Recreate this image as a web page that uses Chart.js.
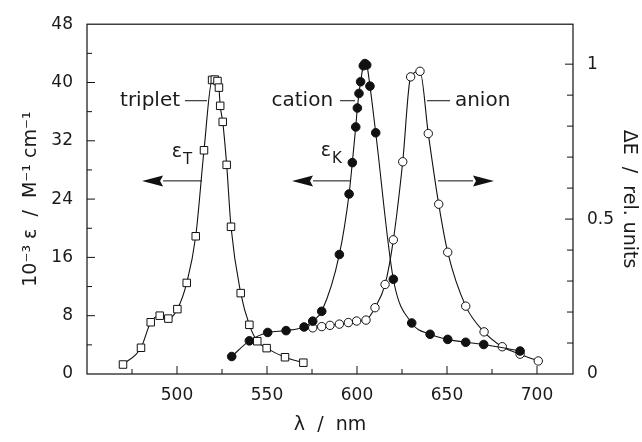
<!DOCTYPE html>
<html>
<head>
<meta charset="utf-8">
<script src="https://cdn.jsdelivr.net/npm/chart.js@4"></script>
<style>
  html, body { margin: 0; background: #fff; }
</style>
</head>
<body>
<canvas id="chart" width="642" height="442"></canvas>
<script>
// triplet (squares, left axis)
const tripletX = [470, 480, 485.4, 490.4, 495.2, 500.2, 505.4, 510.4, 515, 519.5, 521, 522.5, 523.3, 524, 525.4, 527.6, 530, 535.4, 540.2, 544.6, 549.8, 560, 570.2];
const tripletY = [1.3, 3.6, 7.1, 8.0, 7.6, 8.9, 12.5, 18.9, 30.7, 40.35, 40.4, 40.2, 39.3, 36.8, 34.6, 28.7, 20.2, 11.1, 6.75, 4.5, 3.55, 2.3, 1.55];

// cation (filled circles, left axis)
const cationX = [530.4, 540.2, 550.4, 560.6, 570.6, 575.4, 580.4, 590.2, 595.6, 597.4, 599.3, 600.2, 601.1, 602, 603.5, 604.4, 605.4, 607.2, 610.4, 620.2, 630.4, 640.6, 650.4, 660.4, 670.4, 690.6];
const cationY = [2.4, 4.55, 5.7, 5.95, 6.45, 7.25, 8.6, 16.4, 24.7, 29.0, 33.9, 36.5, 38.5, 40.1, 42.3, 42.6, 42.4, 39.5, 33.1, 13.0, 7.0, 5.45, 4.75, 4.35, 4.05, 3.15];

// anion (open circles, right axis)
const anionX = [575.4, 580.4, 585, 590.2, 595.2, 599.8, 605, 610, 615.6, 620.2, 625.4, 629.8, 635, 639.6, 645.4, 650.4, 660.4, 670.6, 680.7, 690.6, 700.7];
const anionY = [0.149, 0.153, 0.157, 0.161, 0.166, 0.171, 0.174, 0.214, 0.289, 0.433, 0.685, 0.959, 0.977, 0.776, 0.548, 0.393, 0.219, 0.136, 0.088, 0.064, 0.042];

// tick labels
const xLabels = [500, 550, 600, 650, 700];
const yLabels = [0, 8, 16, 24, 32, 40, 48];
const y2Labels = [0, 0.5, 1];
const xTicks = [450, 475, 500, 525, 550, 575, 600, 625, 650, 675, 700];

const pts = (xs, ys) => xs.map((x, i) => ({ x: x, y: ys[i] }));
const INK = "#111";
const FONT = "'DejaVu Sans', sans-serif";

// annotations, in data units of x / left axis
const notes = [
  { text: "triplet", x: 501.7, y: 37.5, align: "right", lead: [504.4, 516.7] },
  { text: "cation", x: 586.7, y: 37.5, align: "right", lead: [590.6, 598.9] },
  { text: "anion", x: 654.4, y: 37.5, align: "left", lead: [638.9, 651.7] }
];
const symbols = [
  { main: "ε", sub: "T", x: 502.8, y: 30.4 },
  { main: "ε", sub: "K", x: 585.5, y: 30.6 }
];
const arrows = [
  { from: 513.9, to: 480.6, y: 26.5 },
  { from: 596.1, to: 563.9, y: 26.5 },
  { from: 645, to: 676.1, y: 26.5 }
];

const near = (v, list) => list.some(l => Math.abs(v - l) < 1e-6);

const decor = {
  id: "decor",
  afterDraw(chart) {
    const { ctx, chartArea: a, scales } = chart;
    const sx = scales.x, sy = scales.y, sy2 = scales.y2;
    ctx.save();
    ctx.strokeStyle = INK;
    ctx.lineWidth = 1.2;
    ctx.strokeRect(a.left, a.top, a.right - a.left, a.bottom - a.top);

    ctx.lineWidth = 1;
    ctx.beginPath();
    sx.ticks.forEach(t => {
      const v = t.value;
      if (v <= sx.min || v >= sx.max) return;
      const p = sx.getPixelForValue(v);
      const len = near(v, xLabels) ? 8 : 5;
      ctx.moveTo(p, a.bottom); ctx.lineTo(p, a.bottom - len);
    });
    sy.ticks.forEach(t => {
      const v = t.value;
      if (v <= sy.min || v >= sy.max) return;
      const p = sy.getPixelForValue(v);
      const len = near(v, yLabels) ? 8 : 5;
      ctx.moveTo(a.left, p); ctx.lineTo(a.left + len, p);
    });
    sy2.ticks.forEach(t => {
      const v = t.value;
      if (v <= sy2.min || v >= sy2.max - 0.02) return;
      const p = sy2.getPixelForValue(v);
      const len = near(v, y2Labels) ? 8 : 6;
      ctx.moveTo(a.right, p); ctx.lineTo(a.right - len, p);
    });
    ctx.stroke();

    // labels with leader lines
    ctx.fillStyle = "#1a1a1a";
    ctx.font = "20px " + FONT;
    ctx.textBaseline = "middle";
    notes.forEach(n => {
      ctx.textAlign = n.align;
      ctx.fillText(n.text, sx.getPixelForValue(n.x), sy.getPixelForValue(n.y));
      const py = sy.getPixelForValue(n.y);
      ctx.beginPath();
      ctx.moveTo(sx.getPixelForValue(n.lead[0]), py);
      ctx.lineTo(sx.getPixelForValue(n.lead[1]), py);
      ctx.stroke();
    });

    // epsilon symbols
    symbols.forEach(s => {
      const px = sx.getPixelForValue(s.x), py = sy.getPixelForValue(s.y);
      ctx.textAlign = "right";
      ctx.font = "19px " + FONT;
      ctx.fillText(s.main, px, py);
      ctx.textAlign = "left";
      ctx.font = "15px " + FONT;
      ctx.fillText(s.sub, px + 1, py + 8);
    });

    // arrows
    arrows.forEach(r => {
      const py = sy.getPixelForValue(r.y);
      const x0 = sx.getPixelForValue(r.from), x1 = sx.getPixelForValue(r.to);
      const dir = x1 > x0 ? 1 : -1;
      const base = x1 - dir * 21;
      ctx.beginPath();
      ctx.moveTo(x0, py); ctx.lineTo(base, py);
      ctx.stroke();
      ctx.beginPath();
      ctx.moveTo(x1, py);
      ctx.lineTo(base, py - 5.5);
      ctx.lineTo(base + dir * 3, py);
      ctx.lineTo(base, py + 5.5);
      ctx.closePath();
      ctx.fillStyle = INK;
      ctx.fill();
    });
    ctx.restore();
  }
};

const lineStyle = {
  showLine: true,
  borderColor: INK,
  borderWidth: 1.1,
  cubicInterpolationMode: "monotone",
  pointBorderColor: INK,
  pointBorderWidth: 1,
  pointHoverRadius: 4
};

new Chart(document.getElementById("chart"), {
  type: "scatter",
  data: {
    datasets: [
      Object.assign({}, lineStyle, {
        label: "triplet",
        data: pts(tripletX, tripletY),
        yAxisID: "y",
        pointStyle: "rect",
        pointRadius: 5.3,
        pointBackgroundColor: "#fff"
      }),
      Object.assign({}, lineStyle, {
        label: "cation",
        data: pts(cationX, cationY),
        yAxisID: "y",
        pointStyle: "circle",
        pointRadius: 4.3,
        pointBackgroundColor: INK
      }),
      Object.assign({}, lineStyle, {
        label: "anion",
        data: pts(anionX, anionY),
        yAxisID: "y2",
        pointStyle: "circle",
        pointRadius: 4.2,
        pointBackgroundColor: "#fff"
      })
    ]
  },
  options: {
    responsive: false,
    animation: false,
    layout: { padding: { top: 23, left: 0, right: 0, bottom: 0 } },
    plugins: { legend: { display: false }, tooltip: { enabled: false } },
    scales: {
      x: {
        type: "linear",
        min: 450,
        max: 720,
        afterBuildTicks(s) { s.ticks = xTicks.map(v => ({ value: v })); },
        afterFit(s) { s.height = 68; },
        grid: { display: false, drawTicks: false },
        border: { display: false },
        ticks: {
          autoSkip: false,
          maxRotation: 0,
          padding: 11,
          color: "#1a1a1a",
          font: { family: FONT, size: 17 },
          callback: v => (near(v, xLabels) ? String(v) : "")
        },
        title: {
          display: true,
          text: "λ  /  nm",
          color: "#1a1a1a",
          font: { family: FONT, size: 19 },
          padding: { top: 0, bottom: 6 }
        }
      },
      y: {
        position: "left",
        min: 0,
        max: 48,
        afterFit(s) { s.width = 87; },
        grid: { display: false, drawTicks: false },
        border: { display: false },
        ticks: {
          stepSize: 4,
          autoSkip: false,
          padding: 14,
          color: "#1a1a1a",
          font: { family: FONT, size: 17 },
          callback: v => (near(v, yLabels) ? String(v) : "")
        },
        title: {
          display: true,
          text: "10⁻³ ε  /  M⁻¹ cm⁻¹",
          color: "#1a1a1a",
          font: { family: FONT, size: 19 },
          padding: { top: 20, bottom: 0 }
        }
      },
      y2: {
        position: "right",
        min: 0,
        max: 1.129,
        afterFit(s) { s.width = 69; },
        grid: { display: false, drawTicks: false },
        border: { display: false },
        ticks: {
          stepSize: 0.1,
          autoSkip: false,
          padding: 14,
          color: "#1a1a1a",
          font: { family: FONT, size: 17 },
          callback: v => (v === 0 ? "0" : near(v, [0.5]) ? "0.5" : near(v, [1]) ? "1" : "")
        },
        title: {
          display: true,
          text: "ΔE  /  rel. units",
          color: "#1a1a1a",
          font: { family: FONT, size: 19 },
          padding: { top: 2, bottom: 0 }
        }
      }
    }
  },
  plugins: [decor]
});
</script>
</body>
</html>
